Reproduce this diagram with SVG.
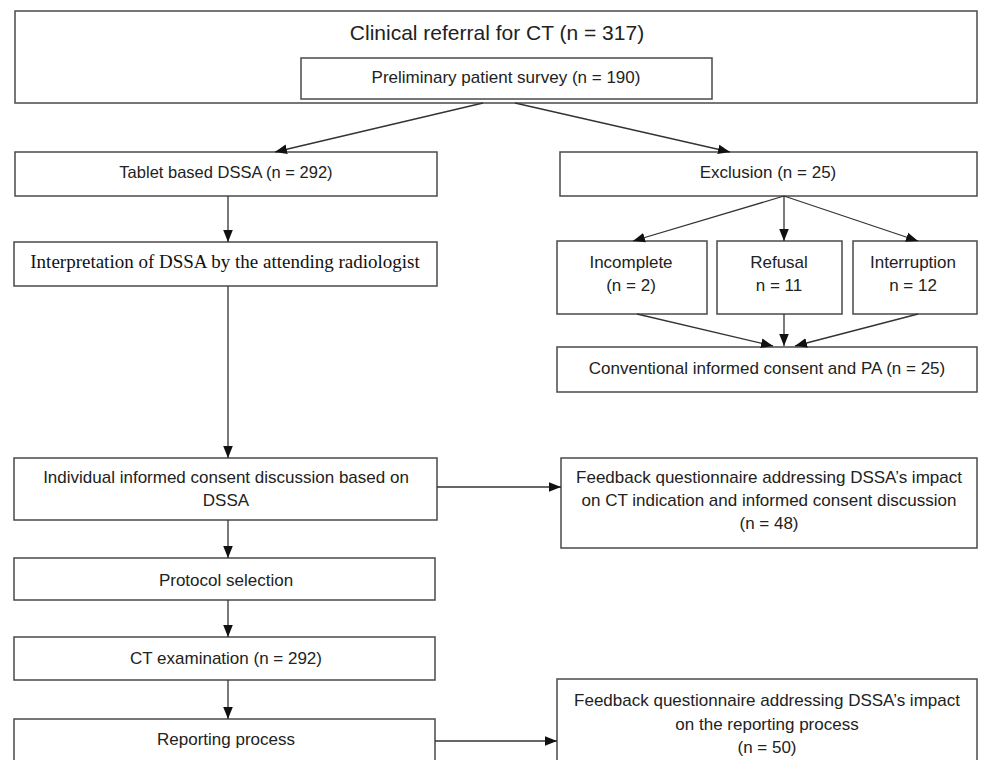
<svg xmlns="http://www.w3.org/2000/svg" width="985" height="760" viewBox="0 0 985 760">
<style>
rect{fill:#fff;stroke:#4a4a4a;stroke-width:1.5}
text{font-family:"Liberation Sans",Arial,sans-serif;font-size:17px;fill:#222;text-anchor:middle}
.serif{font-family:"Liberation Serif","Times New Roman",serif;font-size:19px;fill:#111}
#connectors line{stroke:#333;stroke-width:1.3;marker-end:url(#arr)}
</style>
<defs>
<marker id="arr" markerUnits="userSpaceOnUse" markerWidth="12" markerHeight="12" viewBox="0 0 12 12" refX="12" refY="6" orient="auto">
<path d="M0,1.2 L12,6 L0,10.8 Z" fill="#111"/>
</marker>
</defs>
<rect width="985" height="760" style="fill:#fff;stroke:none"/>
<g id="referral"><rect x="15" y="11" width="962" height="92"/><text x="497" y="40" style="font-size:21px">Clinical referral for CT (n = 317)</text></g>
<g id="survey"><rect x="301" y="58" width="411" height="41"/><text x="506" y="83">Preliminary patient survey (n = 190)</text></g>
<g id="tablet"><rect x="15" y="152" width="422" height="44"/><text x="226" y="178" style="font-size:16.5px">Tablet based DSSA (n = 292)</text></g>
<g id="exclusion"><rect x="560" y="152" width="417" height="44"/><text x="768" y="178">Exclusion (n = 25)</text></g>
<g id="interpretation"><rect x="14" y="242" width="423" height="44"/><text class="serif" x="225" y="268">Interpretation of DSSA by the attending radiologist</text></g>
<g id="incomplete"><rect x="557" y="241" width="150" height="73"/><text x="631" y="268">Incomplete</text><text x="631" y="291">(n = 2)</text></g>
<g id="refusal"><rect x="717" y="241" width="125" height="73"/><text x="779" y="268">Refusal</text><text x="779" y="291">n = 11</text></g>
<g id="interruption"><rect x="853" y="241" width="124" height="73"/><text x="913" y="268">Interruption</text><text x="913" y="291">n = 12</text></g>
<g id="conventional"><rect x="557" y="347" width="420" height="45"/><text x="767" y="374">Conventional informed consent and PA (n = 25)</text></g>
<g id="individual"><rect x="14" y="458" width="423" height="62"/><text x="226" y="483">Individual informed consent discussion based on</text><text x="226" y="506">DSSA</text></g>
<g id="feedback1"><rect x="561" y="458" width="416" height="90"/><text x="769" y="483">Feedback questionnaire addressing DSSA’s impact</text><text x="769" y="506">on CT indication and informed consent discussion</text><text x="769" y="529">(n = 48)</text></g>
<g id="protocol"><rect x="14" y="558" width="421" height="42"/><text x="226" y="586">Protocol selection</text></g>
<g id="ct"><rect x="14" y="637" width="421" height="43"/><text x="226" y="664">CT examination (n = 292)</text></g>
<g id="reporting"><rect x="14" y="719" width="421" height="50"/><text x="226" y="745">Reporting process</text></g>
<g id="feedback2"><rect x="557" y="679" width="420" height="90"/><text x="767" y="706">Feedback questionnaire addressing DSSA’s impact</text><text x="767" y="730">on the reporting process</text><text x="767" y="753">(n = 50)</text></g>
<g id="connectors">
<line x1="483" y1="103" x2="275" y2="152"/>
<line x1="515" y1="103" x2="730" y2="152"/>
<line x1="228" y1="196" x2="228" y2="242"/>
<line x1="784" y1="196" x2="633" y2="241"/>
<line x1="784" y1="196" x2="784" y2="241"/>
<line x1="784" y1="196" x2="918" y2="241"/>
<line x1="637" y1="314" x2="773" y2="346"/>
<line x1="784" y1="314" x2="784" y2="346"/>
<line x1="918" y1="314" x2="795" y2="346"/>
<line x1="228" y1="286" x2="228" y2="458"/>
<line x1="437" y1="487" x2="561" y2="487"/>
<line x1="228" y1="520" x2="228" y2="558"/>
<line x1="228" y1="600" x2="228" y2="637"/>
<line x1="228" y1="680" x2="228" y2="719"/>
<line x1="435" y1="741" x2="557" y2="741"/>
</g>
</svg>
